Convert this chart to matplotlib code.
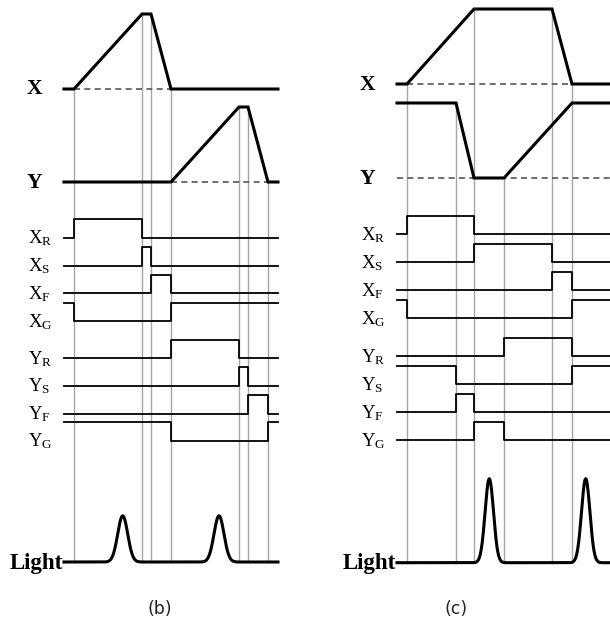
import numpy as np
import matplotlib
matplotlib.use("Agg")
import matplotlib.pyplot as plt

plt.rcParams['font.family'] = ['Liberation Serif', 'DejaVu Serif']
plt.rcParams['mathtext.default'] = 'regular'

# ---------------- data (time in arbitrary units) ----------------
CHANNELS = ['X_R', 'X_S', 'X_F', 'X_G', 'Y_R', 'Y_S', 'Y_F', 'Y_G']

# panel (b)
B_END = 21.4
B_X_T = [0, 1.0, 7.8, 8.7, 10.7, B_END]
B_X_V = [0, 0, 1, 1, 0, 0]
B_Y_T = [0, 10.7, 17.5, 18.4, 20.4, B_END]
B_Y_V = [0, 0, 1, 1, 0, 0]
B_EVENTS = [1.0, 7.8, 8.7, 10.7, 17.5, 18.4, 20.4]
# digital channels: initial level, toggle times
B_INIT = [0, 0, 0, 1, 0, 0, 0, 1]
B_TOGGLES = [[1.0, 7.8], [7.8, 8.7], [8.7, 10.7], [1.0, 10.7],
             [10.7, 17.5], [17.5, 18.4], [18.4, 20.4], [10.7, 20.4]]
B_LIGHT_T = [5.87, 15.5]
B_LIGHT_V = [0.55, 0.55]

# panel (c)
C_END = 21.6
C_X_T = [0, 1.0, 7.7, 15.5, 17.5, C_END]
C_X_V = [0, 0, 1, 1, 0, 0]
C_Y_T = [0, 5.9, 7.7, 10.7, 17.5, C_END]
C_Y_V = [1, 1, 0, 0, 1, 1]
C_EVENTS = [1.0, 5.9, 7.7, 10.7, 15.5, 17.5]
C_INIT = [0, 0, 0, 1, 0, 1, 0, 0]
C_TOGGLES = [[1.0, 7.7], [7.7, 15.5], [15.5, 17.5], [1.0, 17.5],
             [10.7, 17.5], [5.9, 17.5], [5.9, 7.7], [7.7, 10.7]]
C_LIGHT_T = [9.23, 18.87]
C_LIGHT_V = [1.0, 1.0]

# ---------------- layout ----------------
W, H = 610, 626
PX_PER_T = 10.0
AMP = 75.0          # analog swing (px)
DIG = 18.5          # digital swing (px)
LIGHT_PX = 84.0


def step_wave(init, toggles, t_end):
    xs, ys = [0], [init]
    lev = init
    for t in toggles:
        xs += [t, t]
        ys += [lev, 1 - lev]
        lev = 1 - lev
    xs.append(t_end)
    ys.append(lev)
    return np.array(xs), np.array(ys)


def draw_panel(fig, x0_px, t_end, xt, xv, yt, yv, events, init, toggles,
               light_t, light_v, sigma, x_base, y_base, rows, light_base, caption, cap_x):
    left = 0 if x0_px < 300 else 305
    ax = fig.add_axes([left / W, 0, 305 / W, 1])
    ax.set_xlim((left - x0_px) / PX_PER_T, (left + 305 - x0_px) / PX_PER_T)
    ax.set_ylim(H, 0)
    ax.axis('off')

    # vertical event markers
    for ev in events:
        tops = []
        for tt, vv, base in ((xt, xv, x_base), (yt, yv, y_base)):
            for t, v in zip(tt, vv):
                if abs(t - ev) < 1e-6:
                    tops.append(base - AMP * v)
        ax.plot([ev, ev], [min(tops), light_base], color='#a6a6a6', lw=1.0, zorder=1)

    # analog traces with dashed zero level
    for tt, vv, base, name in ((xt, xv, x_base, 'X'), (yt, yv, y_base, 'Y')):
        vv = np.array(vv)
        nz = np.nonzero(vv)[0]
        t0 = tt[max(nz[0] - 1, 0)]
        t1 = tt[min(nz[-1] + 1, len(tt) - 1)]
        ax.plot([t0, t1], [base, base], color='#555555', lw=1.2,
                dashes=(3.6, 2.6), zorder=2)
        ax.plot(tt, base - AMP * vv, color='black', lw=2.2,
                solid_joinstyle='miter', zorder=3)
        ax.text(-2.95, base + 0.5, name, fontsize=15.5, fontweight='bold',
                ha='center', va='center')

    # digital channels
    for name, row, ini, tog in zip(CHANNELS, rows, init, toggles):
        sx, sy = step_wave(ini, tog, t_end)
        ax.plot(sx, row - DIG * sy, color='black', lw=1.3, zorder=3)
        a, b = name.split('_')
        ax.text(-3.62, row + 6.0, r'$%s_{%s}$' % (a, b), fontsize=13.5,
                ha='left', va='baseline')

    # light output
    tl = np.linspace(0, t_end, 1500)
    yl = np.zeros_like(tl)
    for tp, vp in zip(light_t, light_v):
        yl += vp * np.exp(-(tl - tp) ** 2 / (2 * sigma ** 2))
    ax.plot(tl, light_base - LIGHT_PX * yl, color='black', lw=2.2, zorder=3)
    ax.text(-0.1, light_base + 6.5, 'Light', fontsize=16.5, fontweight='bold',
            ha='right', va='baseline')

    fig.text(cap_x / W, 1 - 609 / H, caption, fontsize=12.5,
             family=['DejaVu Sans'], ha='center', va='center', color='#222222')


fig = plt.figure(figsize=(W / 100, H / 100), dpi=100)

draw_panel(fig, 64, B_END, B_X_T, B_X_V, B_Y_T, B_Y_V, B_EVENTS, B_INIT, B_TOGGLES,
           B_LIGHT_T, B_LIGHT_V, 0.5, 89, 182,
           [237.7, 265.7, 293.3, 321.3, 358.3, 385.7, 413.7, 440.7], 562, '(b)', 160)
draw_panel(fig, 397, C_END, C_X_T, C_X_V, C_Y_T, C_Y_V, C_EVENTS, C_INIT, C_TOGGLES,
           C_LIGHT_T, C_LIGHT_V, 0.42, 84, 178,
           [234, 262.3, 290.3, 318.3, 356, 384, 412.3, 440.3], 562.7, '(c)', 456)

fig.savefig('out.png', dpi=100)
